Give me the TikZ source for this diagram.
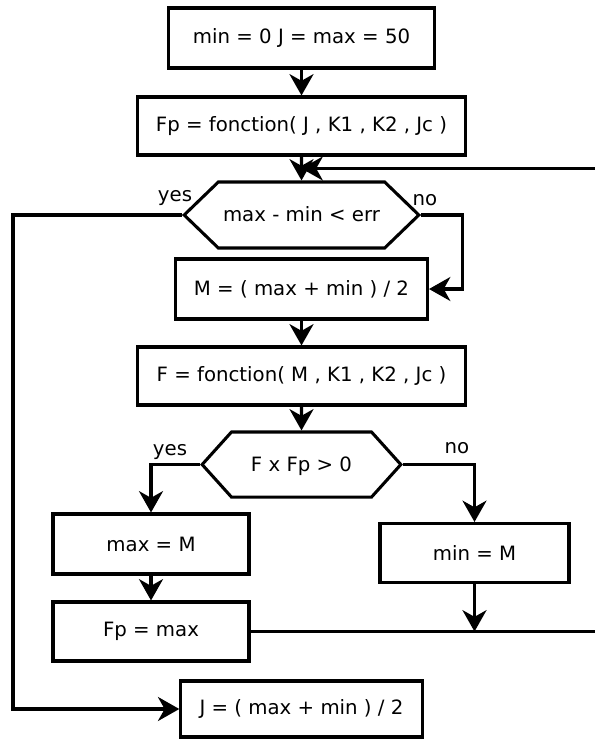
\documentclass[tikz,border=0pt]{standalone}
\usepackage{fontspec}
\setmainfont{DejaVu Sans}
\usetikzlibrary{arrows.meta,positioning,calc,shapes.symbols}
\tikzset{box/.style={draw,line width=2.3pt,inner sep=0pt,align=center,
    font=\fontsize{14.8}{17}\selectfont},
  test/.style={box,signal,signal to=east and west},
  flow/.style={-{Stealth[length=16pt,width=18pt,inset=5pt]},line width=2.3pt},
  wire/.style={line width=2.3pt},
  lab/.style={inner sep=0pt,font=\fontsize{14.8}{17}\selectfont}}

\begin{document}
\begin{tikzpicture}[x=0.75pt,y=-0.75pt]
\useasboundingbox (0,0) rectangle (595,740);
% main column
\node[box,minimum width=200pt,minimum height=45pt] (init) at (301.5,38)
 {min = 0 J = max = 50};
\node[box,minimum width=246pt,minimum height=43.5pt,below=19.45pt of init] (fp)
 {Fp = fonction( J , K1 , K2 , Jc )};
\node[test,signal pointer angle=88,text height=29.75pt,text depth=19.75pt,
 minimum width=176pt,below=17.95pt of fp] (test1)
 {max - min < err};
\node[box,minimum width=189pt,minimum height=45pt,below=5.95pt of test1] (mid)
 {M = ( max + min ) / 2};
\node[box,minimum width=246pt,minimum height=43.5pt,below=18.7pt of mid] (fm)
 {F = fonction( M , K1 , K2 , Jc )};
\node[test,signal pointer angle=96,text height=29.4pt,text depth=19.4pt,
 minimum width=149pt,below=17.95pt of fm] (test2)
 {F x Fp > 0};
% branches
\node[box,minimum width=147pt,minimum height=45pt] (maxm) at (151,544) {max = M};
\node[box,minimum width=147pt,minimum height=44.25pt,below=18.7pt of maxm] (fpmax)
 {Fp = max};
\node[box,minimum width=141.75pt,minimum height=44.25pt] (minm) at (474.5,553)
 {min = M};
\node[box,minimum width=181pt,minimum height=42pt] (result) at (301.5,709)
 {J = ( max + min ) / 2};
% labels
\node[lab] (yes1) at (175,198) {yes};
\node[lab] (no1) at (425,200) {no};
\node[lab] (yes2) at (170,452) {yes};
\node[lab] (no2) at (457,448) {no};
% free ends
\coordinate (merge) at ($(fp.south)!0.5!(test1.north)$);
\coordinate (edge) at (598,0);
\coordinate (bend) at (13,0);
% arrows
\draw[flow] (init) -- (fp);
\draw[flow] (fp) -- (test1);
\draw[flow] (merge -| edge) -- (merge);
\draw[flow] (test1.west) -- (test1.west -| bend) |- (result.west);
\draw[flow] (test1.east) -- ++(41,0) |- (mid.east);
\draw[flow] (mid) -- (fm);
\draw[flow] (fm) -- (test2);
\draw[flow] (test2.west) -| (maxm.north);
\draw[flow] (test2.east) -| (minm.north);
\draw[flow] (maxm) -- (fpmax);
\draw[flow] (minm) -- (minm |- fpmax.east);
\draw[wire] (fpmax.east) -- (fpmax.east -| edge);
\end{tikzpicture}
\end{document}
